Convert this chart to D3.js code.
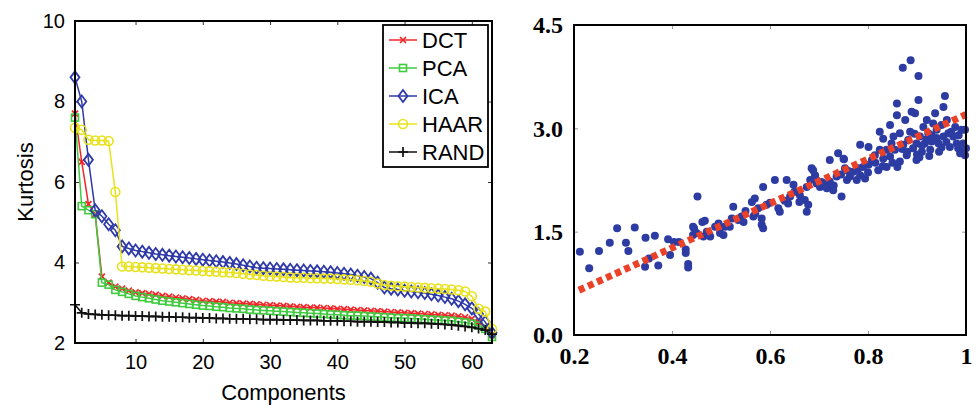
<!DOCTYPE html>
<html>
<head>
<meta charset="utf-8">
<script src="https://cdn.jsdelivr.net/npm/d3@7"></script>
<style>
  html, body { margin: 0; padding: 0; background: #fff; }
  svg { display: block; }
  .serif text { font-family: "Liberation Serif", "DejaVu Serif", serif; }
</style>
</head>
<body>
<div id="chart"></div>
<script>
  // ---- left panel: kurtosis per component ----
  var components = d3.range(1, 64);
  var kurtTicksX = [10, 20, 30, 40, 50, 60];
  var kurtTicksY = [2, 4, 6, 8, 10];

  var dct = [7.7, 6.5, 5.45, 5.2, 3.65, 3.5, 3.4, 3.35, 3.3, 3.26, 3.24, 3.22, 3.2, 3.17, 3.15, 3.13, 3.11, 3.09, 3.07, 3.05,
    3.04, 3.03, 3.02, 3.0, 2.99, 2.98, 2.97, 2.96, 2.95, 2.94, 2.93, 2.92, 2.91, 2.9, 2.89, 2.88, 2.88, 2.87, 2.86, 2.85,
    2.84, 2.83, 2.82, 2.81, 2.8, 2.79, 2.78, 2.77, 2.76, 2.75, 2.74, 2.73, 2.72, 2.71, 2.7, 2.69, 2.68, 2.66, 2.64, 2.6,
    2.52, 2.4, 2.2];
  var pca = [7.6, 5.4, 5.3, 5.2, 3.5, 3.45, 3.32, 3.27, 3.22, 3.17, 3.14, 3.11, 3.08, 3.05, 3.03, 3.01, 2.99, 2.97, 2.95, 2.93,
    2.92, 2.9, 2.89, 2.87, 2.86, 2.85, 2.83, 2.82, 2.81, 2.8, 2.79, 2.78, 2.77, 2.76, 2.75, 2.74, 2.73, 2.72, 2.71, 2.7,
    2.69, 2.68, 2.68, 2.67, 2.66, 2.65, 2.64, 2.63, 2.62, 2.62, 2.61, 2.6, 2.59, 2.58, 2.57, 2.56, 2.55, 2.53, 2.51, 2.48,
    2.43, 2.35, 2.15];
  var ica = [8.6, 8.0, 6.55, 5.3, 5.15, 4.95, 4.8, 4.4, 4.35, 4.3, 4.27, 4.24, 4.21, 4.19, 4.17, 4.15, 4.13, 4.11, 4.09, 4.07,
    4.05, 4.03, 4.01, 3.99, 3.96, 3.93, 3.9, 3.87, 3.86, 3.85, 3.84, 3.83, 3.82, 3.81, 3.8, 3.79, 3.78, 3.77, 3.76, 3.74,
    3.72, 3.7, 3.67, 3.64, 3.6, 3.5, 3.38, 3.35, 3.33, 3.3, 3.28, 3.26, 3.24, 3.21, 3.18, 3.14, 3.1, 3.04, 2.96, 2.86,
    2.72, 2.52, 2.25];
  var haar = [7.35, 7.3, 7.05, 7.03, 7.03, 7.02, 5.75, 3.9, 3.9, 3.89, 3.88, 3.87, 3.86, 3.85, 3.84, 3.83, 3.82, 3.81, 3.8, 3.79,
    3.78, 3.77, 3.76, 3.75, 3.74, 3.72, 3.7, 3.69, 3.67, 3.66, 3.65, 3.64, 3.63, 3.62, 3.62, 3.61, 3.61, 3.6, 3.6, 3.59,
    3.58, 3.57, 3.56, 3.54, 3.52, 3.48, 3.44, 3.42, 3.41, 3.4, 3.39, 3.38, 3.37, 3.36, 3.35, 3.34, 3.33, 3.31, 3.28, 3.16,
    2.85, 2.78, 2.35];
  var rand = [2.95, 2.75, 2.72, 2.71, 2.7, 2.69, 2.69, 2.68, 2.68, 2.67, 2.67, 2.66, 2.66, 2.65, 2.65, 2.64, 2.64, 2.63, 2.63, 2.62,
    2.62, 2.61, 2.61, 2.6, 2.6, 2.6, 2.59, 2.59, 2.58, 2.58, 2.58, 2.57, 2.57, 2.57, 2.56, 2.56, 2.56, 2.55, 2.55, 2.55,
    2.54, 2.54, 2.53, 2.53, 2.53, 2.52, 2.52, 2.51, 2.51, 2.5, 2.5, 2.49, 2.49, 2.48, 2.47, 2.46, 2.45, 2.43, 2.41, 2.39,
    2.36, 2.32, 2.22];

  // ---- right panel: scatter + fitted line ----
  var scatterX = [0.212, 0.231, 0.251, 0.273, 0.288, 0.306, 0.311, 0.324, 0.346, 0.345, 0.365, 0.353, 0.372, 0.392, 0.396,
    0.404, 0.414, 0.428, 0.428, 0.433, 0.433, 0.445, 0.443, 0.452, 0.462,
    0.467, 0.443, 0.450, 0.464, 0.471, 0.478, 0.488, 0.495, 0.498, 0.505, 0.508, 0.518, 0.525, 0.522, 0.535, 0.542, 0.546,
    0.563, 0.569, 0.566, 0.576, 0.583, 0.583, 0.586, 0.586, 0.593, 0.610, 0.617, 0.620, 0.634, 0.637, 0.641, 0.648, 0.661,
    0.671, 0.675, 0.678, 0.675, 0.685, 0.692, 0.695,
    0.682, 0.692, 0.688, 0.702, 0.709, 0.716, 0.722, 0.729, 0.722, 0.736, 0.739, 0.746, 0.750, 0.753, 0.757, 0.763, 0.770,
    0.777, 0.784, 0.784, 0.790, 0.794, 0.801, 0.801, 0.808, 0.814, 0.821, 0.824, 0.824, 0.831, 0.831, 0.838, 0.838, 0.845,
    0.845, 0.848, 0.852, 0.859, 0.859, 0.855, 0.865, 0.865, 0.872, 0.876, 0.879, 0.882, 0.886, 0.889, 0.892, 0.896, 0.899,
    0.903, 0.899, 0.906, 0.910, 0.913, 0.916, 0.920, 0.923, 0.927, 0.930, 0.933, 0.937, 0.940, 0.944, 0.950, 0.954, 0.954,
    0.961, 0.964, 0.967, 0.974, 0.978, 0.981, 0.984, 0.991, 0.991, 0.994, 0.998, 1.0,
    0.871, 0.887, 0.903, 0.957, 0.998, 0.988, 0.751,
    0.87, 0.88, 0.90, 0.91, 0.92, 0.93, 0.94, 0.95, 0.96, 0.97, 0.945, 0.925, 0.905, 0.895, 0.985,
    0.705, 0.73, 0.745, 0.76, 0.78, 0.80, 0.815, 0.83, 0.85, 0.86,
    0.55, 0.57, 0.60, 0.63, 0.65, 0.66];
  var scatterY = [1.21, 0.97, 1.22, 1.34, 1.55, 1.34, 1.22, 1.56, 1.41, 0.99, 1.44, 1.11, 1.01, 1.39, 1.16,
    1.35, 1.35, 1.24, 1.19, 1.03, 0.98, 1.55, 1.45, 2.01, 1.64,
    1.66, 1.57, 1.48, 1.43, 1.50, 1.43, 1.57, 1.62, 1.48, 1.45, 1.57, 1.57, 1.86, 1.69, 1.67, 1.72, 1.64,
    1.93, 1.98, 1.72, 1.84, 1.69, 1.60, 1.55, 2.15, 1.89, 2.25, 1.84, 1.79, 2.25, 1.91, 2.01, 2.18, 2.03,
    1.96, 1.79, 1.89, 2.15, 2.42, 2.32, 2.20,
    2.25, 2.30, 2.39, 2.15, 2.20, 2.13, 2.23, 2.10, 2.54, 2.30, 2.64, 2.01, 2.56, 2.42, 2.25, 2.30, 2.37,
    2.25, 2.32, 2.76, 2.44, 2.27, 2.47, 2.73, 2.54, 2.61, 2.39, 2.69, 2.95, 2.85, 2.56, 2.69, 2.44, 2.59,
    3.05, 2.78, 2.88, 3.36, 3.19, 2.69, 2.93, 2.52, 2.76, 3.12, 2.61, 2.83, 2.95, 3.24, 2.71, 3.22, 2.78,
    3.41, 2.54, 2.88, 2.66, 3.02, 2.78, 3.12, 2.93, 2.69, 2.81, 3.07, 3.22, 2.98, 2.78, 3.05, 3.31, 2.88,
    3.12, 2.93, 2.73, 2.88, 3.02, 2.78, 2.71, 2.98, 2.69, 2.78, 2.61, 2.71,
    3.88, 3.99, 3.76, 3.47, 2.98, 2.64, 2.55,
    2.70, 2.66, 2.62, 2.75, 2.84, 2.90, 2.86, 2.72, 2.80, 2.95, 2.66, 2.60, 2.58, 2.92, 2.90,
    2.22, 2.17, 2.33, 2.38, 2.42, 2.36, 2.50, 2.45, 2.50, 2.44,
    1.80, 1.76, 1.92, 1.95, 2.08, 1.93];
  var fitX = [0.21, 1.0];
  var fitY = [0.65, 3.2];
  var scatterTicksX = [0.2, 0.4, 0.6, 0.8, 1];
  var scatterTicksY = [0, 1.5, 3, 4.5];

  var W = 979, H = 409;
  var sans = '"Liberation Sans", Arial, Helvetica, sans-serif';
  var serif = '"Liberation Serif", "DejaVu Serif", serif';

  var svg = d3.select('#chart').append('svg')
      .attr('width', W)
      .attr('height', H)
      .style('background', '#fff');

  var styleAxis = function (g, font, size) {
    g.attr('font-family', null).attr('font-size', null);
    g.select('.domain').remove();
    g.selectAll('.tick line').attr('stroke', '#333').attr('stroke-width', 1);
    g.selectAll('.tick text').attr('fill', '#000').style('font-family', font).style('font-size', size + 'px');
  };

  // ================= left panel =================
  var xL = d3.scaleLinear().domain([1, 63]).range([75, 492]);
  var yL = d3.scaleLinear().domain([2, 10]).range([343, 21]);
  var left = svg.append('g');

  left.append('g').attr('transform', 'translate(0,' + yL(2) + ')')
      .call(d3.axisBottom(xL).tickValues(kurtTicksX).tickSizeInner(-4).tickSizeOuter(0).tickPadding(12))
      .call(styleAxis, sans, 20);
  left.append('g').attr('transform', 'translate(0,' + yL(10) + ')')
      .call(d3.axisTop(xL).tickValues(kurtTicksX).tickSizeInner(-4).tickSizeOuter(0).tickFormat(''))
      .call(styleAxis, sans, 20);
  left.append('g').attr('transform', 'translate(' + xL(1) + ',0)')
      .call(d3.axisLeft(yL).tickValues(kurtTicksY).tickSizeInner(-4).tickSizeOuter(0).tickPadding(10))
      .call(styleAxis, sans, 20);
  left.append('g').attr('transform', 'translate(' + xL(63) + ',0)')
      .call(d3.axisRight(yL).tickValues(kurtTicksY).tickSizeInner(-4).tickSizeOuter(0).tickFormat(''))
      .call(styleAxis, sans, 20);

  // marker painters
  var markers = {
    x: function (g, c) {
      g.append('path').attr('d', 'M-3,-3L3,3M-3,3L3,-3').attr('stroke', c).attr('stroke-width', 1.7).attr('fill', 'none');
    },
    square: function (g, c) {
      g.append('rect').attr('x', -3.5).attr('y', -3.5).attr('width', 7).attr('height', 7)
          .attr('stroke', c).attr('stroke-width', 1.6).attr('fill', 'none');
    },
    diamond: function (g, c) {
      g.append('path').attr('d', 'M0,-6L4.5,0L0,6L-4.5,0Z').attr('stroke', c).attr('stroke-width', 1.8).attr('fill', 'none');
    },
    circle: function (g, c) {
      g.append('circle').attr('r', 4.5).attr('stroke', c).attr('stroke-width', 1.6).attr('fill', 'none');
    },
    plus: function (g, c) {
      g.append('path').attr('d', 'M-5,0L5,0M0,-5L0,5').attr('stroke', c).attr('stroke-width', 1.7).attr('fill', 'none');
    }
  };

  var series = [
    {name: 'DCT', values: dct, color: '#f2262a', marker: 'x'},
    {name: 'PCA', values: pca, color: '#3ecb3e', marker: 'square'},
    {name: 'ICA', values: ica, color: '#2f3aa8', marker: 'diamond'},
    {name: 'HAAR', values: haar, color: '#e8e21c', marker: 'circle'},
    {name: 'RAND', values: rand, color: '#111', marker: 'plus'}
  ];

  var line = d3.line()
      .x(function (d, i) { return xL(components[i]); })
      .y(function (d) { return yL(d); });

  series.forEach(function (s) {
    var g = left.append('g').attr('class', 'series');
    g.append('path').attr('d', line(s.values))
        .attr('fill', 'none').attr('stroke', s.color).attr('stroke-width', 1.5);
    g.selectAll('g.mk').data(s.values).enter().append('g')
        .attr('class', 'mk')
        .attr('transform', function (d, i) { return 'translate(' + xL(components[i]) + ',' + yL(d) + ')'; })
        .each(function () { markers[s.marker](d3.select(this), s.color); });
  });

  // frame
  left.append('rect').attr('x', xL(1)).attr('y', yL(10))
      .attr('width', xL(63) - xL(1)).attr('height', yL(2) - yL(10))
      .attr('fill', 'none').attr('stroke', '#000').attr('stroke-width', 2);

  // legend
  var legend = left.append('g').attr('transform', 'translate(383,25)');
  legend.append('rect').attr('width', 105).attr('height', 142)
      .attr('fill', '#fff').attr('stroke', '#000').attr('stroke-width', 1.8);
  series.forEach(function (s, i) {
    var row = legend.append('g').attr('transform', 'translate(0,' + (15 + i * 28) + ')');
    row.append('line').attr('x1', 6).attr('x2', 34).attr('y1', 0).attr('y2', 0)
        .attr('stroke', s.color).attr('stroke-width', 1.5);
    var mk = row.append('g').attr('transform', 'translate(20,0)');
    markers[s.marker](mk, s.color);
    row.append('text').attr('x', 39).attr('y', 8)
        .style('font-family', sans).style('font-size', '22px').text(s.name);
  });

  left.append('text')
      .attr('transform', 'translate(33,' + yL(6) + ') rotate(-90)')
      .attr('text-anchor', 'middle')
      .style('font-family', sans).style('font-size', '22px')
      .text('Kurtosis');
  left.append('text')
      .attr('x', (xL(1) + xL(63)) / 2).attr('y', 400)
      .attr('text-anchor', 'middle')
      .style('font-family', sans).style('font-size', '22px')
      .text('Components');

  // ================= right panel =================
  var xR = d3.scaleLinear().domain([0.2, 1]).range([574, 966]);
  var yR = d3.scaleLinear().domain([0, 4.5]).range([335, 25]);
  var right = svg.append('g').attr('class', 'serif');

  right.append('g').attr('transform', 'translate(0,' + yR(0) + ')')
      .call(d3.axisBottom(xR).tickValues(scatterTicksX).tickSizeInner(-4).tickSizeOuter(0).tickPadding(12)
          .tickFormat(function (d) { return d === 1 ? '1' : d3.format('.1f')(d); }))
      .call(styleAxis, serif, 24);
  right.append('g').attr('transform', 'translate(0,' + yR(4.5) + ')')
      .call(d3.axisTop(xR).tickValues(scatterTicksX).tickSizeInner(-4).tickSizeOuter(0).tickFormat(''))
      .call(styleAxis, serif, 24);
  right.append('g').attr('transform', 'translate(' + xR(0.2) + ',0)')
      .call(d3.axisLeft(yR).tickValues(scatterTicksY).tickSizeInner(-4).tickSizeOuter(0).tickPadding(11)
          .tickFormat(d3.format('.1f')))
      .call(styleAxis, serif, 24);
  right.append('g').attr('transform', 'translate(' + xR(1) + ',0)')
      .call(d3.axisRight(yR).tickValues(scatterTicksY).tickSizeInner(-4).tickSizeOuter(0).tickFormat(''))
      .call(styleAxis, serif, 24);
  right.selectAll('.tick line').attr('stroke', '#999');
  right.selectAll('.tick text').style('font-weight', '600');

  right.append('g').selectAll('circle').data(scatterX).enter().append('circle')
      .attr('cx', function (d) { return xR(d); })
      .attr('cy', function (d, i) { return yR(scatterY[i]); })
      .attr('r', 4)
      .attr('fill', '#2d3ca2');

  right.append('line')
      .attr('x1', xR(fitX[0])).attr('y1', yR(fitY[0]))
      .attr('x2', xR(fitX[1])).attr('y2', yR(fitY[1]))
      .attr('stroke', '#ea4128').attr('stroke-width', 7)
      .attr('stroke-dasharray', '6,4');

  right.append('rect').attr('x', xR(0.2)).attr('y', yR(4.5))
      .attr('width', xR(1) - xR(0.2)).attr('height', yR(0) - yR(4.5))
      .attr('fill', 'none').attr('stroke', '#000').attr('stroke-width', 2);
</script>
</body>
</html>
